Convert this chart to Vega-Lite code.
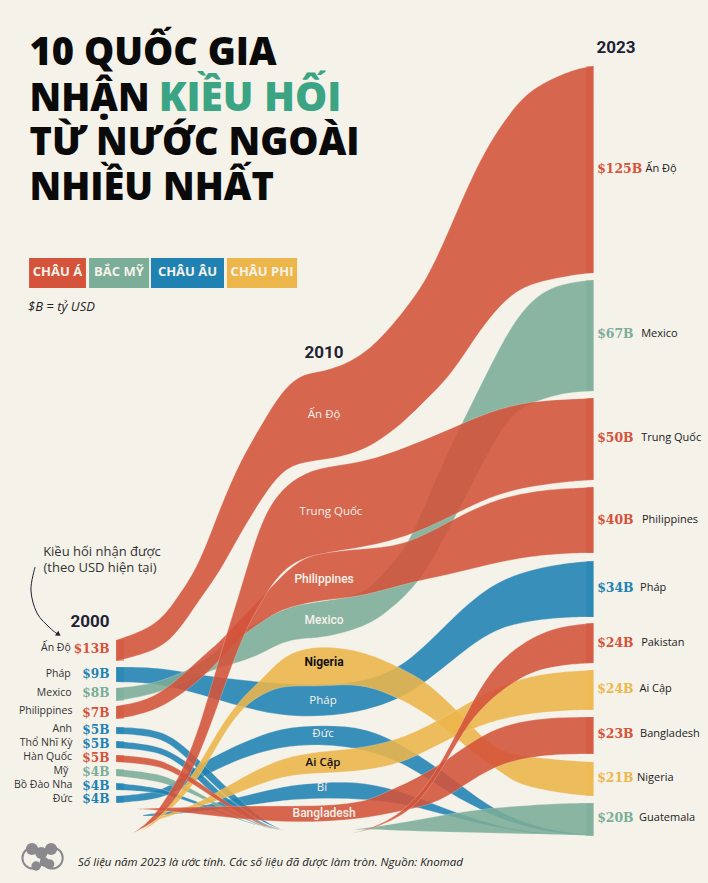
{"$schema":"https://vega.github.io/schema/vega-lite/v6.json","width":708,"height":883,"autosize":{"type":"none"},"padding":0,"background":"#F5F2EA","view":{"stroke":null},
"datasets":{
"bands":[
{"stream":"Pháp","region":"Châu Âu","year":2000,"top":333.5,"bottom":341},{"stream":"Pháp","region":"Châu Âu","year":2002,"top":333.5,"bottom":341.5},{"stream":"Pháp","region":"Châu Âu","year":2004,"top":337.5,"bottom":347},{"stream":"Pháp","region":"Châu Âu","year":2006,"top":340,"bottom":353.5},{"stream":"Pháp","region":"Châu Âu","year":2008,"top":342,"bottom":358},{"stream":"Pháp","region":"Châu Âu","year":2010,"top":342.5,"bottom":358.5},{"stream":"Pháp","region":"Châu Âu","year":2012,"top":341,"bottom":355.5},{"stream":"Pháp","region":"Châu Âu","year":2014,"top":332.5,"bottom":348.5},{"stream":"Pháp","region":"Châu Âu","year":2016,"top":311,"bottom":332},{"stream":"Pháp","region":"Châu Âu","year":2018,"top":292,"bottom":315},{"stream":"Pháp","region":"Châu Âu","year":2020,"top":284.5,"bottom":310},{"stream":"Pháp","region":"Châu Âu","year":2022,"top":281,"bottom":308.5},{"stream":"Pháp","region":"Châu Âu","year":2023,"top":280.5,"bottom":308.5},
{"stream":"Đức","region":"Châu Âu","year":2000,"top":398,"bottom":401.5},{"stream":"Đức","region":"Châu Âu","year":2002,"top":396.5,"bottom":400},{"stream":"Đức","region":"Châu Âu","year":2003,"top":390,"bottom":395},{"stream":"Đức","region":"Châu Âu","year":2004,"top":382,"bottom":389},{"stream":"Đức","region":"Châu Âu","year":2006,"top":371.5,"bottom":379},{"stream":"Đức","region":"Châu Âu","year":2008,"top":363.5,"bottom":373},{"stream":"Đức","region":"Châu Âu","year":2010,"top":362.5,"bottom":372},{"stream":"Đức","region":"Châu Âu","year":2012,"top":363.5,"bottom":374.5},{"stream":"Đức","region":"Châu Âu","year":2014,"top":373.5,"bottom":382},{"stream":"Đức","region":"Châu Âu","year":2016,"top":387.5,"bottom":396.5},{"stream":"Đức","region":"Châu Âu","year":2018,"top":404,"bottom":407.5},{"stream":"Đức","region":"Châu Âu","year":2020,"top":413,"bottom":414.5},{"stream":"Đức","region":"Châu Âu","year":2022,"top":417,"bottom":417.5},{"stream":"Đức","region":"Châu Âu","year":2023,"top":417.5,"bottom":417.5},
{"stream":"Bỉ","region":"Châu Âu","year":2001.3,"top":407.5,"bottom":408},{"stream":"Bỉ","region":"Châu Âu","year":2002,"top":406.5,"bottom":408},{"stream":"Bỉ","region":"Châu Âu","year":2004,"top":403.5,"bottom":405.5},{"stream":"Bỉ","region":"Châu Âu","year":2006,"top":398.5,"bottom":403.5},{"stream":"Bỉ","region":"Châu Âu","year":2008,"top":393,"bottom":400},{"stream":"Bỉ","region":"Châu Âu","year":2010,"top":391,"bottom":399},{"stream":"Bỉ","region":"Châu Âu","year":2012,"top":391,"bottom":399.5},{"stream":"Bỉ","region":"Châu Âu","year":2014,"top":396.5,"bottom":402},{"stream":"Bỉ","region":"Châu Âu","year":2016,"top":405,"bottom":408},{"stream":"Bỉ","region":"Châu Âu","year":2018,"top":412,"bottom":413},{"stream":"Bỉ","region":"Châu Âu","year":2020,"top":416.5,"bottom":417},{"stream":"Bỉ","region":"Châu Âu","year":2022,"top":417.5,"bottom":417.5},
{"stream":"Anh","region":"Châu Âu","year":2000,"top":363.5,"bottom":367},{"stream":"Anh","region":"Châu Âu","year":2002,"top":364.5,"bottom":368},{"stream":"Anh","region":"Châu Âu","year":2003,"top":370.5,"bottom":375},{"stream":"Anh","region":"Châu Âu","year":2004,"top":380,"bottom":385},{"stream":"Anh","region":"Châu Âu","year":2005,"top":390.5,"bottom":395.5},{"stream":"Anh","region":"Châu Âu","year":2006,"top":400,"bottom":403.5},{"stream":"Anh","region":"Châu Âu","year":2007,"top":410,"bottom":411},{"stream":"Anh","region":"Châu Âu","year":2008,"top":415,"bottom":415},
{"stream":"Thổ Nhĩ Kỳ","region":"Châu Âu","year":2000,"top":370.5,"bottom":374},{"stream":"Thổ Nhĩ Kỳ","region":"Châu Âu","year":2002,"top":372.5,"bottom":375.5},{"stream":"Thổ Nhĩ Kỳ","region":"Châu Âu","year":2003,"top":378,"bottom":381.5},{"stream":"Thổ Nhĩ Kỳ","region":"Châu Âu","year":2004,"top":385.5,"bottom":390},{"stream":"Thổ Nhĩ Kỳ","region":"Châu Âu","year":2005,"top":396.5,"bottom":401},{"stream":"Thổ Nhĩ Kỳ","region":"Châu Âu","year":2006,"top":404,"bottom":406},{"stream":"Thổ Nhĩ Kỳ","region":"Châu Âu","year":2007,"top":412,"bottom":412.5},{"stream":"Thổ Nhĩ Kỳ","region":"Châu Âu","year":2008,"top":415,"bottom":415},
{"stream":"Bồ Đào Nha","region":"Châu Âu","year":2000,"top":391.5,"bottom":395},{"stream":"Bồ Đào Nha","region":"Châu Âu","year":2002,"top":393.5,"bottom":396},{"stream":"Bồ Đào Nha","region":"Châu Âu","year":2003,"top":397.5,"bottom":399},{"stream":"Bồ Đào Nha","region":"Châu Âu","year":2004,"top":401,"bottom":402.5},{"stream":"Bồ Đào Nha","region":"Châu Âu","year":2005,"top":406,"bottom":406.5},{"stream":"Bồ Đào Nha","region":"Châu Âu","year":2006,"top":409.5,"bottom":410},{"stream":"Bồ Đào Nha","region":"Châu Âu","year":2007,"top":413.5,"bottom":413.5},{"stream":"Bồ Đào Nha","region":"Châu Âu","year":2008,"top":415,"bottom":415},
{"stream":"Mexico","region":"Bắc Mỹ","year":2000,"top":344,"bottom":350.5},{"stream":"Mexico","region":"Bắc Mỹ","year":2002,"top":342,"bottom":347},{"stream":"Mexico","region":"Bắc Mỹ","year":2004,"top":332.5,"bottom":338},{"stream":"Mexico","region":"Bắc Mỹ","year":2005,"top":324,"bottom":333.5},{"stream":"Mexico","region":"Bắc Mỹ","year":2006,"top":315,"bottom":331},{"stream":"Mexico","region":"Bắc Mỹ","year":2007,"top":310.5,"bottom":327},{"stream":"Mexico","region":"Bắc Mỹ","year":2008,"top":304.5,"bottom":321},{"stream":"Mexico","region":"Bắc Mỹ","year":2009,"top":302,"bottom":319},{"stream":"Mexico","region":"Bắc Mỹ","year":2010,"top":300.5,"bottom":319},{"stream":"Mexico","region":"Bắc Mỹ","year":2012,"top":297.5,"bottom":313.5},{"stream":"Mexico","region":"Bắc Mỹ","year":2013,"top":285,"bottom":306.5},{"stream":"Mexico","region":"Bắc Mỹ","year":2014,"top":274,"bottom":297.5},{"stream":"Mexico","region":"Bắc Mỹ","year":2015,"top":249.5,"bottom":285},{"stream":"Mexico","region":"Bắc Mỹ","year":2016,"top":225.5,"bottom":265},{"stream":"Mexico","region":"Bắc Mỹ","year":2017,"top":204.5,"bottom":245},{"stream":"Mexico","region":"Bắc Mỹ","year":2018,"top":183.5,"bottom":225},{"stream":"Mexico","region":"Bắc Mỹ","year":2019,"top":163.5,"bottom":207},{"stream":"Mexico","region":"Bắc Mỹ","year":2020,"top":150,"bottom":201.5},{"stream":"Mexico","region":"Bắc Mỹ","year":2021,"top":143.5,"bottom":198},{"stream":"Mexico","region":"Bắc Mỹ","year":2022,"top":141,"bottom":196},{"stream":"Mexico","region":"Bắc Mỹ","year":2023,"top":140,"bottom":195.5},
{"stream":"Mỹ","region":"Bắc Mỹ","year":2000,"top":384.5,"bottom":388},{"stream":"Mỹ","region":"Bắc Mỹ","year":2002,"top":386.5,"bottom":390.5},{"stream":"Mỹ","region":"Bắc Mỹ","year":2003,"top":391,"bottom":394},{"stream":"Mỹ","region":"Bắc Mỹ","year":2004,"top":396.5,"bottom":398.5},{"stream":"Mỹ","region":"Bắc Mỹ","year":2005,"top":402.5,"bottom":404},{"stream":"Mỹ","region":"Bắc Mỹ","year":2006,"top":407.5,"bottom":408.5},{"stream":"Mỹ","region":"Bắc Mỹ","year":2007,"top":413,"bottom":413.5},{"stream":"Mỹ","region":"Bắc Mỹ","year":2008,"top":415,"bottom":415},
{"stream":"Guatemala","region":"Bắc Mỹ","year":2011.4,"top":415,"bottom":415},{"stream":"Guatemala","region":"Bắc Mỹ","year":2012,"top":414,"bottom":414.5},{"stream":"Guatemala","region":"Bắc Mỹ","year":2014,"top":411,"bottom":415.5},{"stream":"Guatemala","region":"Bắc Mỹ","year":2016,"top":407,"bottom":416},{"stream":"Guatemala","region":"Bắc Mỹ","year":2018,"top":404,"bottom":416.5},{"stream":"Guatemala","region":"Bắc Mỹ","year":2020,"top":402.5,"bottom":417},{"stream":"Guatemala","region":"Bắc Mỹ","year":2022,"top":401.5,"bottom":417.5},{"stream":"Guatemala","region":"Bắc Mỹ","year":2023,"top":401.5,"bottom":418},
{"stream":"Nigeria","region":"Châu Phi","year":2001.16,"top":416,"bottom":416},{"stream":"Nigeria","region":"Châu Phi","year":2002,"top":409.5,"bottom":411},{"stream":"Nigeria","region":"Châu Phi","year":2003,"top":397.5,"bottom":401},{"stream":"Nigeria","region":"Châu Phi","year":2004,"top":382.5,"bottom":389},{"stream":"Nigeria","region":"Châu Phi","year":2005,"top":363.5,"bottom":370},{"stream":"Nigeria","region":"Châu Phi","year":2006,"top":349.5,"bottom":354.5},{"stream":"Nigeria","region":"Châu Phi","year":2007,"top":340,"bottom":347},{"stream":"Nigeria","region":"Châu Phi","year":2008,"top":328.5,"bottom":343},{"stream":"Nigeria","region":"Châu Phi","year":2009,"top":324.5,"bottom":343},{"stream":"Nigeria","region":"Châu Phi","year":2010,"top":323,"bottom":343},{"stream":"Nigeria","region":"Châu Phi","year":2012,"top":325.5,"bottom":341.5},{"stream":"Nigeria","region":"Châu Phi","year":2014,"top":335.5,"bottom":351},{"stream":"Nigeria","region":"Châu Phi","year":2015,"top":341.5,"bottom":357.5},{"stream":"Nigeria","region":"Châu Phi","year":2016,"top":351,"bottom":365},{"stream":"Nigeria","region":"Châu Phi","year":2017,"top":361.5,"bottom":375},{"stream":"Nigeria","region":"Châu Phi","year":2018,"top":372.5,"bottom":382},{"stream":"Nigeria","region":"Châu Phi","year":2019,"top":377,"bottom":390},{"stream":"Nigeria","region":"Châu Phi","year":2020,"top":378.5,"bottom":394},{"stream":"Nigeria","region":"Châu Phi","year":2022,"top":380.5,"bottom":397.5},{"stream":"Nigeria","region":"Châu Phi","year":2023,"top":381,"bottom":398},
{"stream":"Ai Cập","region":"Châu Phi","year":2001.5,"top":411,"bottom":411},{"stream":"Ai Cập","region":"Châu Phi","year":2002,"top":409,"bottom":410},{"stream":"Ai Cập","region":"Châu Phi","year":2003,"top":405,"bottom":406.5},{"stream":"Ai Cập","region":"Châu Phi","year":2004,"top":401.5,"bottom":403.5},{"stream":"Ai Cập","region":"Châu Phi","year":2006,"top":389,"bottom":396},{"stream":"Ai Cập","region":"Châu Phi","year":2008,"top":378.5,"bottom":387.5},{"stream":"Ai Cập","region":"Châu Phi","year":2010,"top":375.5,"bottom":386.5},{"stream":"Ai Cập","region":"Châu Phi","year":2012,"top":374,"bottom":385.5},{"stream":"Ai Cập","region":"Châu Phi","year":2014,"top":368.5,"bottom":381},{"stream":"Ai Cập","region":"Châu Phi","year":2016,"top":357.5,"bottom":369.5},{"stream":"Ai Cập","region":"Châu Phi","year":2018,"top":345,"bottom":360.5},{"stream":"Ai Cập","region":"Châu Phi","year":2020,"top":337.5,"bottom":356.5},{"stream":"Ai Cập","region":"Châu Phi","year":2022,"top":335.5,"bottom":355},{"stream":"Ai Cập","region":"Châu Phi","year":2023,"top":335,"bottom":355},
{"stream":"Hàn Quốc","region":"Châu Á","year":2000,"top":377.5,"bottom":381},{"stream":"Hàn Quốc","region":"Châu Á","year":2002,"top":379,"bottom":382.5},{"stream":"Hàn Quốc","region":"Châu Á","year":2003,"top":384.5,"bottom":387.5},{"stream":"Hàn Quốc","region":"Châu Á","year":2004,"top":391,"bottom":394},{"stream":"Hàn Quốc","region":"Châu Á","year":2005,"top":399,"bottom":401},{"stream":"Hàn Quốc","region":"Châu Á","year":2006,"top":405.5,"bottom":407},{"stream":"Hàn Quốc","region":"Châu Á","year":2007,"top":412.5,"bottom":413},{"stream":"Hàn Quốc","region":"Châu Á","year":2008,"top":415,"bottom":415},
{"stream":"Bangladesh","region":"Châu Á","year":2001,"top":404.5,"bottom":404.5},{"stream":"Bangladesh","region":"Châu Á","year":2002,"top":404,"bottom":405},{"stream":"Bangladesh","region":"Châu Á","year":2004,"top":403.5,"bottom":407},{"stream":"Bangladesh","region":"Châu Á","year":2006,"top":403,"bottom":409.5},{"stream":"Bangladesh","region":"Châu Á","year":2008,"top":403,"bottom":411},{"stream":"Bangladesh","region":"Châu Á","year":2010,"top":403,"bottom":411},{"stream":"Bangladesh","region":"Châu Á","year":2012,"top":401,"bottom":409},{"stream":"Bangladesh","region":"Châu Á","year":2013,"top":396,"bottom":407},{"stream":"Bangladesh","region":"Châu Á","year":2014,"top":391.5,"bottom":405},{"stream":"Bangladesh","region":"Châu Á","year":2015,"top":386,"bottom":402.5},{"stream":"Bangladesh","region":"Châu Á","year":2016,"top":379.5,"bottom":398.5},{"stream":"Bangladesh","region":"Châu Á","year":2018,"top":364.5,"bottom":383.5},{"stream":"Bangladesh","region":"Châu Á","year":2020,"top":359.5,"bottom":378},{"stream":"Bangladesh","region":"Châu Á","year":2022,"top":358.5,"bottom":377},{"stream":"Bangladesh","region":"Châu Á","year":2023,"top":358.5,"bottom":377},
{"stream":"Philippines","region":"Châu Á","year":2000,"top":353,"bottom":359.5},{"stream":"Philippines","region":"Châu Á","year":2002,"top":349.5,"bottom":356},{"stream":"Philippines","region":"Châu Á","year":2004,"top":329.5,"bottom":340.5},{"stream":"Philippines","region":"Châu Á","year":2005,"top":321,"bottom":330},{"stream":"Philippines","region":"Châu Á","year":2006,"top":309.5,"bottom":318},{"stream":"Philippines","region":"Châu Á","year":2007,"top":299,"bottom":311},{"stream":"Philippines","region":"Châu Á","year":2008,"top":287.5,"bottom":304.5},{"stream":"Philippines","region":"Châu Á","year":2009,"top":279,"bottom":302},{"stream":"Philippines","region":"Châu Á","year":2010,"top":276,"bottom":300},{"stream":"Philippines","region":"Châu Á","year":2012,"top":274.5,"bottom":298},{"stream":"Philippines","region":"Châu Á","year":2014,"top":272.5,"bottom":291.5},{"stream":"Philippines","region":"Châu Á","year":2016,"top":261,"bottom":287.5},{"stream":"Philippines","region":"Châu Á","year":2018,"top":250.5,"bottom":282},{"stream":"Philippines","region":"Châu Á","year":2020,"top":245.5,"bottom":278},{"stream":"Philippines","region":"Châu Á","year":2022,"top":244,"bottom":276.5},{"stream":"Philippines","region":"Châu Á","year":2023,"top":243.5,"bottom":276.5},
{"stream":"Ấn Độ","region":"Châu Á","year":2000,"top":320,"bottom":330.5},{"stream":"Ấn Độ","region":"Châu Á","year":2002,"top":313,"bottom":325.5},{"stream":"Ấn Độ","region":"Châu Á","year":2003,"top":298,"bottom":316},{"stream":"Ấn Độ","region":"Châu Á","year":2004,"top":282.5,"bottom":300},{"stream":"Ấn Độ","region":"Châu Á","year":2005,"top":254,"bottom":286},{"stream":"Ấn Độ","region":"Châu Á","year":2006,"top":230,"bottom":266.5},{"stream":"Ấn Độ","region":"Châu Á","year":2007,"top":212.5,"bottom":249.5},{"stream":"Ấn Độ","region":"Châu Á","year":2008,"top":195,"bottom":235},{"stream":"Ấn Độ","region":"Châu Á","year":2009,"top":186.5,"bottom":231},{"stream":"Ấn Độ","region":"Châu Á","year":2010,"top":186,"bottom":230},{"stream":"Ấn Độ","region":"Châu Á","year":2012,"top":178.5,"bottom":226},{"stream":"Ấn Độ","region":"Châu Á","year":2014,"top":154,"bottom":210},{"stream":"Ấn Độ","region":"Châu Á","year":2015,"top":139,"bottom":199},{"stream":"Ấn Độ","region":"Châu Á","year":2016,"top":116,"bottom":189},{"stream":"Ấn Độ","region":"Châu Á","year":2017,"top":91.5,"bottom":173.5},{"stream":"Ấn Độ","region":"Châu Á","year":2018,"top":71,"bottom":158.5},{"stream":"Ấn Độ","region":"Châu Á","year":2019,"top":56,"bottom":147.5},{"stream":"Ấn Độ","region":"Châu Á","year":2020,"top":44,"bottom":141.5},{"stream":"Ấn Độ","region":"Châu Á","year":2022,"top":34.5,"bottom":137.5},{"stream":"Ấn Độ","region":"Châu Á","year":2023,"top":33,"bottom":136.5},
{"stream":"Pakistan","region":"Châu Á","year":2011.4,"top":416.5,"bottom":416.5},{"stream":"Pakistan","region":"Châu Á","year":2012,"top":415,"bottom":415.5},{"stream":"Pakistan","region":"Châu Á","year":2013,"top":411,"bottom":411.5},{"stream":"Pakistan","region":"Châu Á","year":2014,"top":404,"bottom":406.5},{"stream":"Pakistan","region":"Châu Á","year":2015,"top":392.5,"bottom":396},{"stream":"Pakistan","region":"Châu Á","year":2016,"top":375,"bottom":379},{"stream":"Pakistan","region":"Châu Á","year":2017,"top":354,"bottom":361},{"stream":"Pakistan","region":"Châu Á","year":2018,"top":336,"bottom":350},{"stream":"Pakistan","region":"Châu Á","year":2019,"top":326,"bottom":342},{"stream":"Pakistan","region":"Châu Á","year":2020,"top":319,"bottom":336},{"stream":"Pakistan","region":"Châu Á","year":2021,"top":314.5,"bottom":333.5},{"stream":"Pakistan","region":"Châu Á","year":2022,"top":312.5,"bottom":332},{"stream":"Pakistan","region":"Châu Á","year":2023,"top":311.5,"bottom":331.5},
{"stream":"Trung Quốc","region":"Châu Á","year":2000.82,"top":416.5,"bottom":416.5},{"stream":"Trung Quốc","region":"Châu Á","year":2001.5,"top":411.5,"bottom":413},{"stream":"Trung Quốc","region":"Châu Á","year":2002,"top":405.5,"bottom":409.5},{"stream":"Trung Quốc","region":"Châu Á","year":2003,"top":390,"bottom":398.5},{"stream":"Trung Quốc","region":"Châu Á","year":2004,"top":365,"bottom":378.5},{"stream":"Trung Quốc","region":"Châu Á","year":2005,"top":327.5,"bottom":350},{"stream":"Trung Quốc","region":"Châu Á","year":2006,"top":295,"bottom":320},{"stream":"Trung Quốc","region":"Châu Á","year":2007,"top":259,"bottom":300},{"stream":"Trung Quốc","region":"Châu Á","year":2008,"top":244,"bottom":285},{"stream":"Trung Quốc","region":"Châu Á","year":2009,"top":237,"bottom":279},{"stream":"Trung Quốc","region":"Châu Á","year":2010,"top":233.5,"bottom":276.5},{"stream":"Trung Quốc","region":"Châu Á","year":2012,"top":231,"bottom":273.5},{"stream":"Trung Quốc","region":"Châu Á","year":2014,"top":223.5,"bottom":268.5},{"stream":"Trung Quốc","region":"Châu Á","year":2016,"top":215,"bottom":259},{"stream":"Trung Quốc","region":"Châu Á","year":2018,"top":205.5,"bottom":248},{"stream":"Trung Quốc","region":"Châu Á","year":2020,"top":200.5,"bottom":243},{"stream":"Trung Quốc","region":"Châu Á","year":2022,"top":199.5,"bottom":240.5},{"stream":"Trung Quốc","region":"Châu Á","year":2023,"top":199,"bottom":240}
],
"caps":[
{"region":"Châu Á","year":2022.65,"yearEnd":2023,"top":33,"bottom":136.5},{"region":"Bắc Mỹ","year":2022.65,"yearEnd":2023,"top":140,"bottom":195.5},{"region":"Châu Á","year":2022.65,"yearEnd":2023,"top":199,"bottom":240},{"region":"Châu Á","year":2022.65,"yearEnd":2023,"top":243.5,"bottom":276.5},{"region":"Châu Âu","year":2022.65,"yearEnd":2023,"top":280.5,"bottom":308.5},{"region":"Châu Á","year":2022.65,"yearEnd":2023,"top":311.5,"bottom":331.5},{"region":"Châu Phi","year":2022.65,"yearEnd":2023,"top":335,"bottom":355},{"region":"Châu Á","year":2022.65,"yearEnd":2023,"top":358.5,"bottom":377},{"region":"Châu Phi","year":2022.65,"yearEnd":2023,"top":381,"bottom":398},{"region":"Bắc Mỹ","year":2022.65,"yearEnd":2023,"top":401.5,"bottom":418},
{"region":"Châu Á","year":2000,"yearEnd":2000.38,"top":320,"bottom":330.5},{"region":"Châu Âu","year":2000,"yearEnd":2000.38,"top":333.5,"bottom":341},{"region":"Bắc Mỹ","year":2000,"yearEnd":2000.38,"top":344,"bottom":350.5},{"region":"Châu Á","year":2000,"yearEnd":2000.38,"top":353,"bottom":359.5},{"region":"Châu Âu","year":2000,"yearEnd":2000.38,"top":363.5,"bottom":367},{"region":"Châu Âu","year":2000,"yearEnd":2000.38,"top":370.5,"bottom":374},{"region":"Châu Á","year":2000,"yearEnd":2000.38,"top":377.5,"bottom":381},{"region":"Bắc Mỹ","year":2000,"yearEnd":2000.38,"top":384.5,"bottom":388},{"region":"Châu Âu","year":2000,"yearEnd":2000.38,"top":391.5,"bottom":395},{"region":"Châu Âu","year":2000,"yearEnd":2000.38,"top":398,"bottom":401.5}
],
"legendBoxes":[
{"region":"Châu Á","year":1995.81,"yearEnd":1998.55,"top":129,"bottom":144},{"region":"Bắc Mỹ","year":1998.7,"yearEnd":2001.59,"top":129,"bottom":144},{"region":"Châu Âu","year":2001.68,"yearEnd":2005.2,"top":129,"bottom":144},{"region":"Châu Phi","year":2005.34,"yearEnd":2008.72,"top":129,"bottom":144}
],
"legendLabels":[
{"label":"CHÂU Á","year":1997.18,"top":136},{"label":"BẮC MỸ","year":2000.14,"top":136},{"label":"CHÂU ÂU","year":2003.44,"top":136},{"label":"CHÂU PHI","year":2007.03,"top":136}
],
"titleBlack":[
{"label":"10 QUỐC GIA","year":1995.83,"top":32.5},{"label":"NHẬN","year":1995.83,"top":55.5},{"label":"TỪ NƯỚC NGOÀI","year":1995.83,"top":77.5},{"label":"NHIỀU NHẤT","year":1995.83,"top":100}
],
"titleGreen":[{"label":"KIỀU HỐI","year":2002.05,"top":55.5}],
"years":[{"label":"2000","year":1998.75,"top":311},{"label":"2010","year":2010.02,"top":176.5},{"label":"2023","year":2024.08,"top":24}],
"bandWhite":[{"label":"Ấn Độ","year":2010.02,"top":207.5},{"label":"Trung Quốc","year":2010.35,"top":256},{"label":"Pháp","year":2009.97,"top":350.5},{"label":"Đức","year":2009.97,"top":367},{"label":"Bỉ","year":2009.92,"top":394}],
"bandWhiteBold":[{"label":"Philippines","year":2010.02,"top":289.5},{"label":"Mexico","year":2010.02,"top":310},{"label":"Bangladesh","year":2010.02,"top":406.5}],
"bandBlackBold":[{"label":"Nigeria","year":2010.02,"top":331}],
"bandBlack":[{"label":"Ai Cập","year":2009.97,"top":381.5}],
"leftValues":[
{"label":"$13B","region":"Châu Á","year":1999.68,"top":324.5},{"label":"$9B","region":"Châu Âu","year":1999.68,"top":337},{"label":"$8B","region":"Bắc Mỹ","year":1999.68,"top":346.5},{"label":"$7B","region":"Châu Á","year":1999.68,"top":356.5},{"label":"$5B","region":"Châu Âu","year":1999.68,"top":365},{"label":"$5B","region":"Châu Âu","year":1999.68,"top":372},{"label":"$5B","region":"Châu Á","year":1999.68,"top":379},{"label":"$4B","region":"Bắc Mỹ","year":1999.68,"top":386},{"label":"$4B","region":"Châu Âu","year":1999.68,"top":393},{"label":"$4B","region":"Châu Âu","year":1999.68,"top":399.5}
],
"leftNames":[
{"label":"Ấn Độ","year":1997.82,"top":324},{"label":"Pháp","year":1997.82,"top":337},{"label":"Mexico","year":1997.86,"top":346.5},{"label":"Philippines","year":1997.9,"top":355.5},{"label":"Anh","year":1997.88,"top":364.5},{"label":"Thổ Nhĩ Kỳ","year":1997.9,"top":371.5},{"label":"Hàn Quốc","year":1997.88,"top":378.5},{"label":"Mỹ","year":1997.7,"top":385.5},{"label":"Bồ Đào Nha","year":1997.9,"top":392.5},{"label":"Đức","year":1997.9,"top":399.5}
],
"rightValues":[
{"label":"$125B","region":"Châu Á","year":2023.17,"top":84.5},{"label":"$67B","region":"Bắc Mỹ","year":2023.17,"top":167},{"label":"$50B","region":"Châu Á","year":2023.17,"top":219},{"label":"$40B","region":"Châu Á","year":2023.17,"top":260},{"label":"$34B","region":"Châu Âu","year":2023.17,"top":294},{"label":"$24B","region":"Châu Á","year":2023.17,"top":321.5},{"label":"$24B","region":"Châu Phi","year":2023.17,"top":344.5},{"label":"$23B","region":"Châu Á","year":2023.17,"top":367},{"label":"$21B","region":"Châu Phi","year":2023.17,"top":389},{"label":"$20B","region":"Bắc Mỹ","year":2023.17,"top":409}
],
"rightNames":[
{"label":"Ấn Độ","year":2025.5,"top":84.5},{"label":"Mexico","year":2025.29,"top":167},{"label":"Trung Quốc","year":2025.29,"top":219},{"label":"Philippines","year":2025.33,"top":260},{"label":"Pháp","year":2025.24,"top":294},{"label":"Pakistan","year":2025.29,"top":321.5},{"label":"Ai Cập","year":2025.21,"top":344.5},{"label":"Bangladesh","year":2025.24,"top":367},{"label":"Nigeria","year":2025.09,"top":389},{"label":"Guatemala","year":2025.19,"top":409}
],
"annotation":[{"label":"Kiều hối nhận được","year":1999.32,"top":276},{"label":"(theo USD hiện tại)","year":1999.23,"top":284}],
"arrow":[{"seq":1,"year":1996.1,"top":283.5},{"seq":2,"year":1995.9,"top":295},{"seq":3,"year":1996.19,"top":306.5},{"seq":4,"year":1996.82,"top":314},{"seq":5,"year":1997.25,"top":317.5}],
"arrowHead":[{"year":1997.2,"top":317}],
"unitNote":[{"label":"$B = tỷ USD","year":1995.76,"top":153.5}],
"footer":[{"label":"Số liệu năm 2023 là ước tính. Các số liệu đã được làm tròn. Nguồn: Knomad","year":1998.17,"top":431.5}],
"logoRings":[{"year":1996,"top":429},{"year":1996.92,"top":429}],
"logoLobes":[{"year":1995.95,"top":424.5},{"year":1996.87,"top":424.5},{"year":1996.4,"top":426.5}],
"logoBlob":[{"year":1996.15,"top":433},{"year":1996.55,"top":431},{"year":1996.8,"top":432}]
},
"encoding":{"x":{"field":"year","type":"quantitative","axis":null,"scale":{"domain":[1994.41,2028.51],"nice":false,"zero":false}},"y":{"field":"top","type":"quantitative","axis":null,"scale":{"domain":[0,441.5],"reverse":true,"nice":false,"zero":false}}},
"layer":[
{"data":{"name":"bands"},"mark":{"type":"area","interpolate":"basis","opacity":0.88,"stroke":"#F5F2EA","strokeWidth":0.4,"strokeOpacity":0.7},"encoding":{"y2":{"field":"bottom"},"detail":{"field":"stream"},"color":{"field":"region","type":"nominal","legend":null,"scale":{"domain":["Châu Á","Bắc Mỹ","Châu Âu","Châu Phi"],"range":["#D4533A","#7BAD99","#1F82B3","#EDB64A"]}}}},
{"data":{"name":"caps"},"mark":{"type":"rect","opacity":0.45},"encoding":{"x2":{"field":"yearEnd"},"y2":{"field":"bottom"},"color":{"field":"region","type":"nominal","legend":null}}},
{"data":{"name":"legendBoxes"},"mark":{"type":"rect"},"encoding":{"x2":{"field":"yearEnd"},"y2":{"field":"bottom"},"color":{"field":"region","type":"nominal","legend":null}}},
{"data":{"name":"legendLabels"},"mark":{"type":"text","font":"Open Sans","fontWeight":"bold","fontSize":13,"fill":"#F5F2EA","align":"center","baseline":"middle"},"encoding":{"text":{"field":"label"}}},
{"data":{"name":"titleBlack"},"mark":{"type":"text","font":"Open Sans","fontWeight":800,"fontSize":38,"fill":"#0A0A0A","align":"left","baseline":"alphabetic"},"encoding":{"text":{"field":"label"}}},
{"data":{"name":"titleGreen"},"mark":{"type":"text","font":"Open Sans","fontWeight":800,"fontSize":40.5,"fill":"#3BA583","align":"left","baseline":"alphabetic"},"encoding":{"text":{"field":"label"}}},
{"data":{"name":"years"},"mark":{"type":"text","font":"Roboto","fontWeight":"bold","fontSize":17,"fill":"#1E2235","align":"center","baseline":"middle"},"encoding":{"text":{"field":"label"}}},
{"data":{"name":"bandWhite"},"mark":{"type":"text","font":"Open Sans","fontSize":11.5,"fill":"#F5F2EA","align":"center","baseline":"middle"},"encoding":{"text":{"field":"label"}}},
{"data":{"name":"bandWhiteBold"},"mark":{"type":"text","font":"Roboto","fontWeight":500,"fontSize":12,"fill":"#F5F2EA","align":"center","baseline":"middle"},"encoding":{"text":{"field":"label"}}},
{"data":{"name":"bandBlackBold"},"mark":{"type":"text","font":"Roboto","fontWeight":"bold","fontSize":12,"fill":"#111111","align":"center","baseline":"middle"},"encoding":{"text":{"field":"label"}}},
{"data":{"name":"bandBlack"},"mark":{"type":"text","font":"Open Sans","fontWeight":600,"fontSize":11.5,"fill":"#111111","align":"center","baseline":"middle"},"encoding":{"text":{"field":"label"}}},
{"data":{"name":"leftValues"},"mark":{"type":"text","font":"DejaVu Serif Condensed","fontWeight":"bold","fontSize":13.5,"align":"right","baseline":"middle"},"encoding":{"text":{"field":"label"},"color":{"field":"region","type":"nominal","legend":null}}},
{"data":{"name":"leftNames"},"mark":{"type":"text","font":"Open Sans","fontSize":10.5,"fill":"#333333","align":"right","baseline":"middle"},"encoding":{"text":{"field":"label"}}},
{"data":{"name":"rightValues"},"mark":{"type":"text","font":"DejaVu Serif Condensed","fontWeight":"bold","fontSize":13.8,"align":"left","baseline":"middle"},"encoding":{"text":{"field":"label"},"color":{"field":"region","type":"nominal","legend":null}}},
{"data":{"name":"rightNames"},"mark":{"type":"text","font":"Open Sans","fontSize":11,"fill":"#222222","align":"left","baseline":"middle"},"encoding":{"text":{"field":"label"}}},
{"data":{"name":"annotation"},"mark":{"type":"text","font":"Open Sans","fontSize":13,"fill":"#333333","align":"center","baseline":"middle"},"encoding":{"text":{"field":"label"}}},
{"data":{"name":"arrow"},"mark":{"type":"line","interpolate":"cardinal","stroke":"#1E2235","strokeWidth":1},"encoding":{"order":{"field":"seq","type":"ordinal"}}},
{"data":{"name":"arrowHead"},"mark":{"type":"point","shape":"triangle","filled":true,"fill":"#1E2235","opacity":1,"size":32,"angle":125},"encoding":{}},
{"data":{"name":"unitNote"},"mark":{"type":"text","font":"Open Sans","fontStyle":"italic","fontSize":13,"fill":"#222222","align":"left","baseline":"middle"},"encoding":{"text":{"field":"label"}}},
{"data":{"name":"footer"},"mark":{"type":"text","font":"Open Sans","fontStyle":"italic","fontSize":11.5,"fill":"#222222","align":"left","baseline":"middle"},"encoding":{"text":{"field":"label"}}},
{"data":{"name":"logoRings"},"mark":{"type":"point","shape":"circle","filled":false,"stroke":"#8A8A8E","strokeWidth":2,"opacity":1,"size":450},"encoding":{}},
{"data":{"name":"logoLobes"},"mark":{"type":"point","shape":"circle","filled":true,"fill":"#8A8A8E","opacity":1,"size":150},"encoding":{}},
{"data":{"name":"logoBlob"},"mark":{"type":"point","shape":"circle","filled":true,"fill":"#8A8A8E","opacity":1,"size":90},"encoding":{}}
]}
